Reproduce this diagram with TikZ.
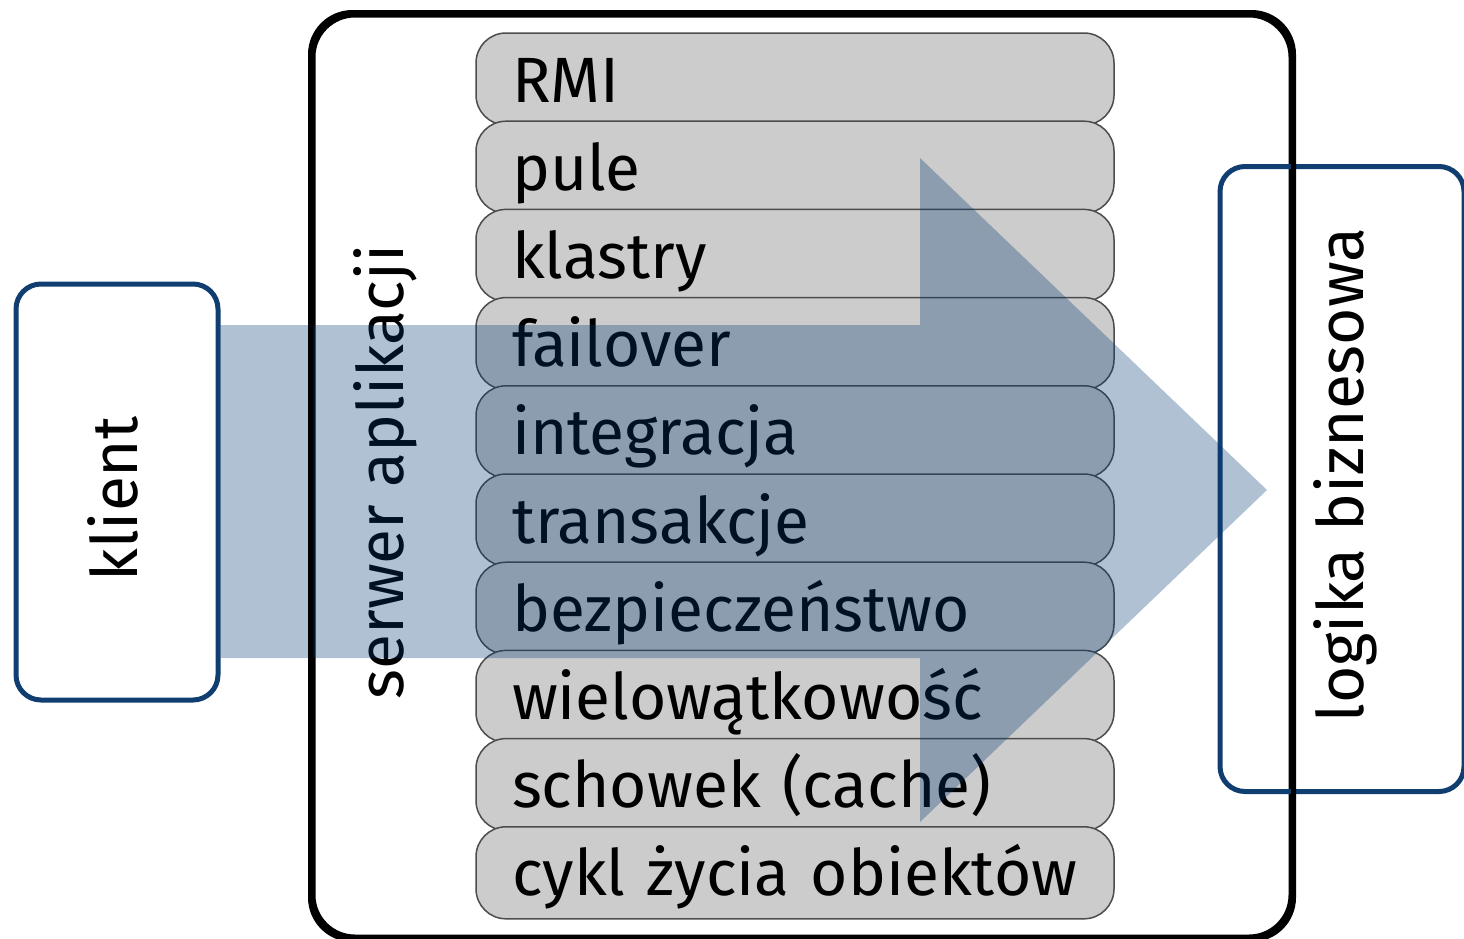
\documentclass[tikz,border=0pt]{standalone}
\usepackage{fontspec}
\setmainfont{Fira Sans}
\begin{document}
\begin{tikzpicture}[x=1pt,y=-1pt,
  lbl/.style={font=\fontsize{64}{76}\selectfont},
  layer/.style={lbl, draw=black!70, line width=1.5pt, fill=black!20,
    rounded corners=30pt, minimum width=638pt, minimum height=92pt,
    text width=566pt, align=left, inner xsep=36pt, inner ysep=0pt,
    text height=46pt, text depth=0pt},
  sidebox/.style={draw=navy, line width=5pt, rounded corners=25pt},
  server/.style={draw=black, line width=5pt, rounded corners=42pt}
]
\definecolor{navy}{RGB}{16,62,112}
\definecolor{flow}{RGB}{0,55,113}
\useasboundingbox (0,0) rectangle (1464,938);

% application server frame
\node[server, minimum width=978pt, minimum height=922pt] (srv) at (802,476) {};

% service layers, stacked top to bottom
\foreach \t [count=\i from 0] in {RMI, pule, klastry, failover, integracja,
    transakcje, bezpiecze\'nstwo, wielow\k{a}tkowo\'s\'c,
    schowek (cache), cykl \.zycia obiekt\'ow}
  \node[layer] (L\i) at (795, 79+88.2*\i) {\t};

\node[lbl, rotate=90] (srvlbl) at (385,472) {serwer aplikacji};

% client and business logic
\node[sidebox, minimum width=202pt, minimum height=416pt] (cli) at (117,492) {};
\node[lbl, rotate=90] at (113,499) {klient};
\node[sidebox, minimum width=244pt, minimum height=625pt] (bl) at (1342,479) {};
\node[lbl, rotate=90] at (1345,475) {logika biznesowa};

% request flow arrow
\coordinate (a0) at (cli.east |- 0,325);
\coordinate (a1) at (cli.east |- 0,658);
\fill[flow, opacity=0.31] (a0) -- (920,325) -- (920,158) -- (1267,490)
  -- (920,822) -- (920,658) -- (a1) -- cycle;

% frame lines stay on top of the arrow
\draw[black, line width=5pt, rounded corners=42pt]
  (srv.south west) rectangle (srv.north east);
\end{tikzpicture}
\end{document}
